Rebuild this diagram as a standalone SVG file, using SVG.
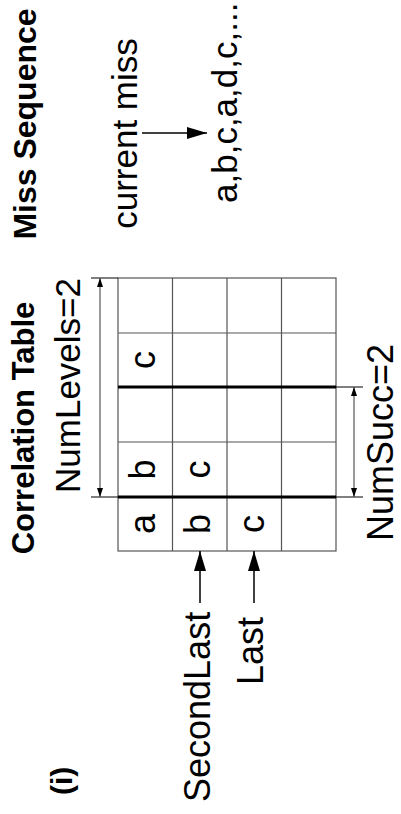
<svg xmlns="http://www.w3.org/2000/svg" width="401" height="814" viewBox="0 0 401 814">
<style>
text{font-family:"Liberation Sans",Arial,sans-serif;fill:#000}
.b{font-weight:bold}
.grid{stroke:#555;stroke-width:1.2;fill:none}
.thick{stroke:#000;stroke-width:3}
.dim{stroke:#555;stroke-width:1.2;fill:none}
.ext{stroke:#000;stroke-width:1.2}
.arr{stroke:#000;stroke-width:1.5;fill:none}
</style>
<defs>
<marker id="big" markerUnits="userSpaceOnUse" markerWidth="20" markerHeight="12" refX="20" refY="6" orient="auto">
<path d="M0,0 L20,6 L0,12 Z" fill="#000"/>
</marker>
<marker id="sm" markerUnits="userSpaceOnUse" markerWidth="9" markerHeight="6" refX="9" refY="3" orient="auto-start-reverse">
<path d="M0,0 L9,3 L0,6 Z" fill="#000"/>
</marker>
</defs>
<rect width="401" height="814" fill="#fff"/>
<g id="title-miss"><text class="b" font-size="32" text-anchor="middle" transform="translate(36,124) rotate(-90)">Miss Sequence</text></g>
<g id="current-miss"><text font-size="35" text-anchor="middle" transform="translate(137,133.5) rotate(-90)">current miss</text></g>
<g id="sequence"><text font-size="35" transform="translate(237,203) rotate(-90)">a,b,c,a,d,c,...</text></g>
<g id="title-corr"><text class="b" font-size="31" text-anchor="middle" transform="translate(34,428) rotate(-90)">Correlation Table</text></g>
<g id="numlevels"><text font-size="35" text-anchor="middle" transform="translate(80,385.5) rotate(-90)">NumLevels=2</text></g>
<g id="numsucc"><text font-size="36" text-anchor="middle" transform="translate(393,442.5) rotate(-90)">NumSucc=2</text></g>
<g id="label-i"><text class="b" font-size="30" transform="translate(72,795) rotate(-90)">(i)</text></g>
<g id="secondlast"><text font-size="36" transform="translate(210,802) rotate(-90)">SecondLast</text></g>
<g id="last"><text font-size="36" transform="translate(263,685) rotate(-90)">Last</text></g>
<g id="table">
<rect class="grid" x="118" y="278" width="218" height="273"/>
<path class="grid" d="M172.5,278V551M227,278V551M281.5,278V551M118,333H336M118,442H336"/>
<path class="thick" d="M118,387H336M118,497H336"/>
<g font-size="36" text-anchor="middle">
<text transform="translate(155,524) rotate(-90)">a</text>
<text transform="translate(210,524) rotate(-90)">b</text>
<text transform="translate(264,524) rotate(-90)">c</text>
<text transform="translate(155,469.5) rotate(-90)">b</text>
<text transform="translate(210,469.5) rotate(-90)">c</text>
<text transform="translate(155,360) rotate(-90)">c</text>
</g>
</g>
<g id="connectors">
<path class="ext" d="M91,278H118M91,497H118M336,497H363M336,387H363"/>
<line class="dim" x1="100" y1="278" x2="100" y2="497" marker-start="url(#sm)" marker-end="url(#sm)"/>
<line class="dim" x1="354" y1="387" x2="354" y2="497" marker-start="url(#sm)" marker-end="url(#sm)"/>
<line class="arr" x1="142" y1="133" x2="207" y2="133" marker-end="url(#big)"/>
<line class="arr" x1="200" y1="603" x2="200" y2="551" marker-end="url(#big)"/>
<line class="arr" x1="254" y1="603" x2="254" y2="551" marker-end="url(#big)"/>
</g>
</svg>
